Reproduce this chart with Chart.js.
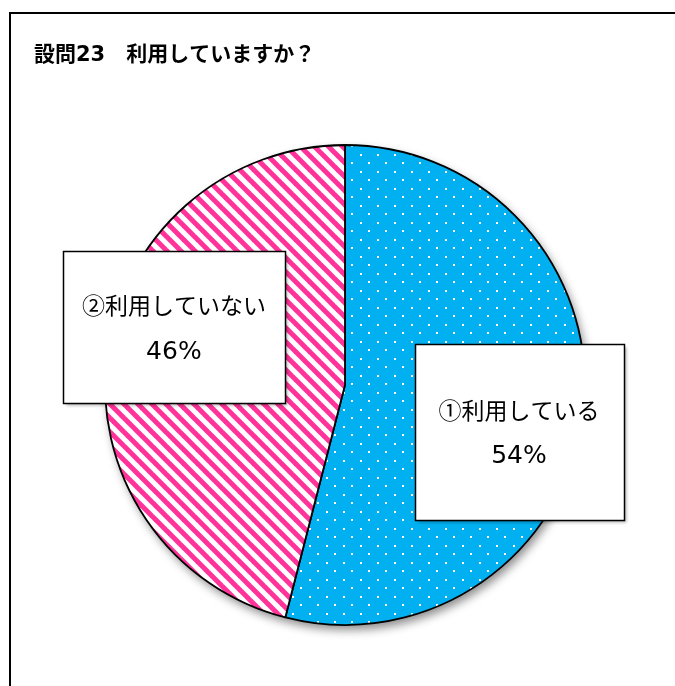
<!DOCTYPE html>
<html>
<head>
<meta charset="utf-8">
<script src="https://cdn.jsdelivr.net/npm/chart.js"></script>
<style>
  body { margin: 0; background: #fff; }
  #chart { display: block; }
</style>
</head>
<body>
<canvas id="chart" width="675" height="686"></canvas>
<script>
// data
const titleText = '設問23　利用していますか？';
const categories = ['①利用している', '②利用していない'];
const shares = [54, 46];

// where the label boxes sit, relative to the pie centre (in radii)
const labelBoxes = [
    { dx: 0.725, dy: 0.195, w: 209, h: 176 },
    { dx: -0.713, dy: -0.24, w: 222, h: 152 }
];

function dotPattern() {
    const c = document.createElement('canvas');
    c.width = 17;
    c.height = 17;
    const g = c.getContext('2d');
    g.fillStyle = '#00B0F0';
    g.fillRect(0, 0, 17, 17);
    g.fillStyle = '#ffffff';
    g.fillRect(3, 1, 2, 2);
    g.fillRect(11, 9, 2, 2);
    return g.createPattern(c, 'repeat');
}

function stripePattern() {
    const s = 14;
    const c = document.createElement('canvas');
    c.width = s;
    c.height = s;
    const g = c.getContext('2d');
    g.fillStyle = '#ffffff';
    g.fillRect(0, 0, s, s);
    g.strokeStyle = '#FF3399';
    g.lineWidth = 5;
    for (let k = -1; k <= 1; k++) {
        g.beginPath();
        g.moveTo(k * s - 2, -2);
        g.lineTo(k * s + s + 2, s + 2);
        g.stroke();
    }
    return g.createPattern(c, 'repeat');
}

const framePlugin = {
    id: 'frame',
    beforeDraw(chart) {
        const ctx = chart.ctx;
        ctx.save();
        ctx.fillStyle = '#fff';
        ctx.fillRect(0, 0, chart.width, chart.height);
        ctx.strokeStyle = '#000';
        ctx.lineWidth = 2;
        ctx.strokeRect(10, 13, chart.width + 10, chart.height + 10);
        ctx.fillStyle = '#000';
        ctx.font = 'bold 21px "DejaVu Sans", "Noto Sans CJK JP", sans-serif';
        ctx.textBaseline = 'middle';
        ctx.fillText(titleText, 34, 56);
        ctx.restore();
    },
    beforeDatasetsDraw(chart) {
        // soft shadow under the whole pie
        const arc = chart.getDatasetMeta(0).data[0];
        const ctx = chart.ctx;
        ctx.save();
        ctx.shadowColor = 'rgba(0,0,0,0.45)';
        ctx.shadowBlur = 10;
        ctx.shadowOffsetX = 3;
        ctx.shadowOffsetY = 5;
        ctx.fillStyle = '#fff';
        ctx.beginPath();
        ctx.arc(arc.x, arc.y, arc.outerRadius, 0, Math.PI * 2);
        ctx.fill();
        ctx.restore();
    },
    afterDatasetsDraw(chart) {
        const meta = chart.getDatasetMeta(0);
        const ctx = chart.ctx;
        ctx.save();
        meta.data.forEach((arc, i) => {
            const b = labelBoxes[i];
            const cx = arc.x + b.dx * arc.outerRadius;
            const cy = arc.y + b.dy * arc.outerRadius;
            const x = Math.round(cx - b.w / 2) + 0.5;
            const y = Math.round(cy - b.h / 2) + 0.5;
            ctx.shadowColor = 'rgba(0,0,0,0.3)';
            ctx.shadowBlur = 3;
            ctx.shadowOffsetX = 2;
            ctx.shadowOffsetY = 2;
            ctx.fillStyle = '#fff';
            ctx.fillRect(x, y, b.w, b.h);
            ctx.shadowColor = 'transparent';
            ctx.strokeStyle = '#000';
            ctx.lineWidth = 1.5;
            ctx.strokeRect(x, y, b.w, b.h);
            ctx.fillStyle = '#000';
            ctx.font = '23px "Noto Sans CJK JP", sans-serif';
            ctx.textAlign = 'center';
            ctx.textBaseline = 'middle';
            ctx.fillText(chart.data.labels[i], cx, cy - 22);
            ctx.font = '25px "DejaVu Sans", sans-serif';
            ctx.fillText(chart.data.datasets[0].data[i] + '%', cx, cy + 25);
        });
        ctx.restore();
    }
};

new Chart(document.getElementById('chart').getContext('2d'), {
    type: 'pie',
    data: {
        labels: categories,
        datasets: [{
            data: shares,
            backgroundColor: [dotPattern(), stripePattern()],
            borderColor: '#000',
            borderWidth: 1.8
        }]
    },
    options: {
        responsive: false,
        animation: false,
        radius: 240,
        layout: {
            padding: { left: 105, right: 90, top: 145, bottom: 61 }
        },
        plugins: {
            legend: { display: false },
            tooltip: { enabled: false }
        }
    },
    plugins: [framePlugin]
});
</script>
</body>
</html>
